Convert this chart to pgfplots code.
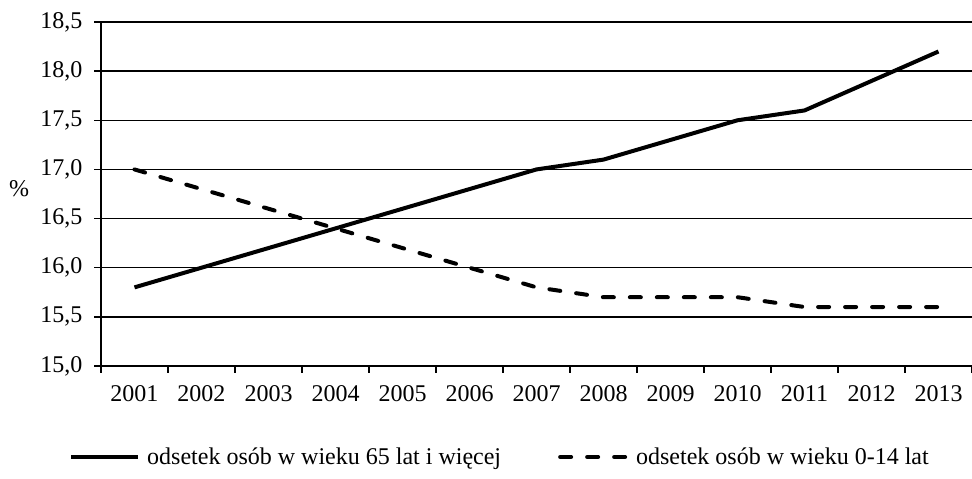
\documentclass[border=0pt]{standalone}
\usepackage{pgfplots}
\pgfplotsset{compat=1.18}
\usepackage{fontspec}
\setmainfont{Liberation Serif}
\newcommand{\bigf}{\fontsize{24}{28}\selectfont}
\begin{document}
\begin{tikzpicture}[font=\bigf]
\useasboundingbox (-101pt,-113pt) rectangle (871pt,366pt);
\begin{axis}[
  at={(0,0)}, anchor=south west,
  scale only axis, width=871pt, height=344pt,
  font=\bigf,
  tick label style={font=\bigf},
  xmin=0.5, xmax=13.5, ymin=15, ymax=18.5,
  axis x line*=bottom, axis y line*=left,
  axis line style={black, line width=1.3pt},
  tick align=outside,
  major tick length=7pt,
  tick style={black, line width=1.3pt},
  xtick={0.5,1.5,...,13.5}, xticklabels={},
  extra x ticks={1,2,3,4,5,6,7,8,9,10,11,12,13},
  extra x tick labels={2001,2002,2003,2004,2005,2006,2007,2008,2009,2010,2011,2012,2013},
  extra x tick style={major tick length=0pt, grid=none, xticklabel style={yshift=-16pt}},
  yticklabel style={xshift=-8pt},
  ytick={15,15.5,...,18.5},
  ymajorgrids,
  grid style={black, line width=1.3pt},
  /pgf/number format/.cd, fixed, fixed zerofill, precision=1, use comma, assume math mode=true,
  /pgfplots/.cd,
  ylabel={\%},
  every axis y label/.style={at={(axis description cs:-0.094,0.515)}, anchor=center, font=\bigf},
  legend style={at={(axis description cs:-0.0367,-0.2645)}, anchor=west, draw=none, fill=none, inner sep=0pt, font=\bigf, legend columns=2, /tikz/every even column/.append style={column sep=55pt}, legend cell align=left},
  legend image code/.code={\draw[#1] (0pt,0pt) -- (67pt,0pt); \path (72pt,0pt);},
  clip=false,
]
\addplot[black, line width=4pt, line join=round] coordinates {
(1,15.8)(2,16.0)(3,16.2)(4,16.4)(5,16.6)(6,16.8)(7,17.0)(8,17.1)(9,17.3)(10,17.5)(11,17.6)(12,17.9)(13,18.2)};
\addlegendentry{odsetek osób w wieku 65 lat i więcej}
\addplot[black, line width=4pt, dash pattern=on 11pt off 16pt, line cap=round] coordinates {
(1,17.0)(2,16.8)(3,16.6)(4,16.4)(5,16.2)(6,16.0)(7,15.8)(8,15.7)(9,15.7)(10,15.7)(11,15.6)(12,15.6)(13,15.6)};
\addlegendentry{odsetek osób w wieku 0-14 lat}
\end{axis}
\end{tikzpicture}
\end{document}
